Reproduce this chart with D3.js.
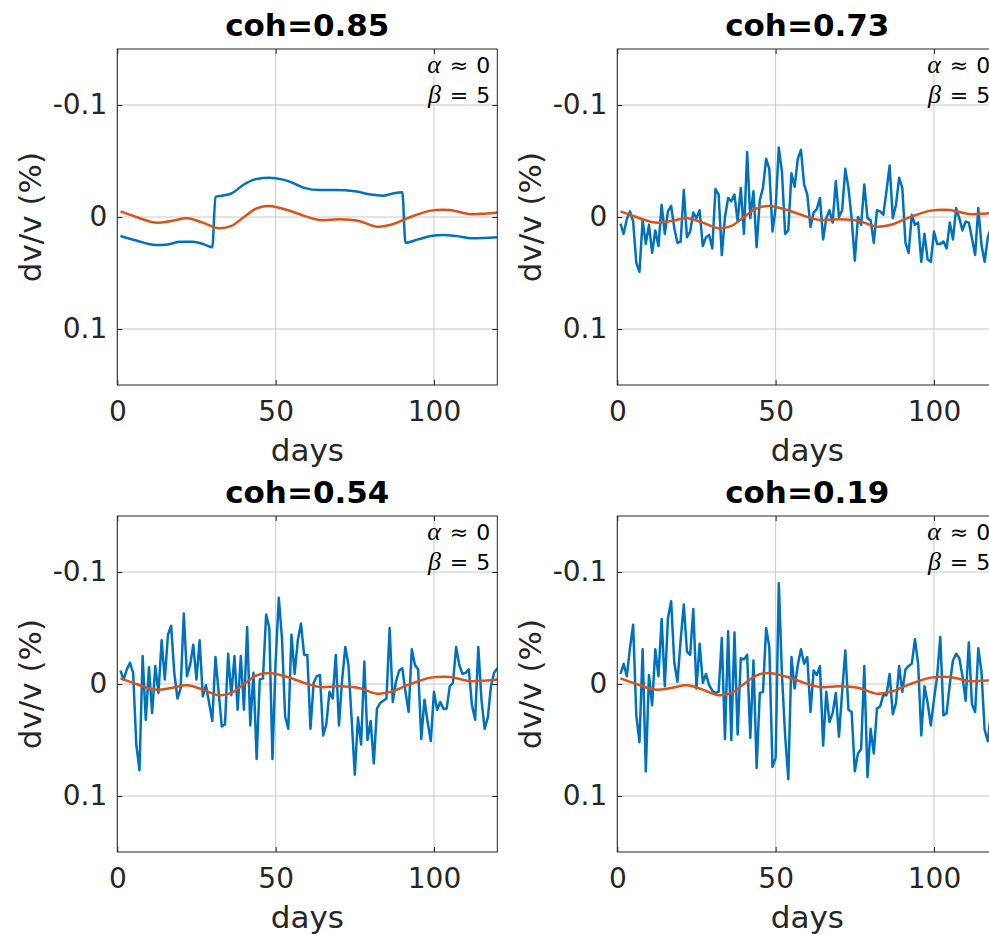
<!DOCTYPE html>
<html lang="en">
<head>
    <meta charset="UTF-8">
    <title>dv/v vs days</title>
    <script src="https://d3js.org/d3.v7.min.js"></script>
    <style>
        body{
            margin: 0;
            background: #fff;
            overflow: hidden;
        }
        text{
            font-family: "DejaVu Sans", sans-serif;
        }
        .tick text{
            font-size: 28px;
            fill: #262626;
        }
        .grid line{
            stroke: #c9c9c9;
            stroke-width: 1;
        }
        .frame{
            fill: none;
            stroke: #262626;
            stroke-width: 1;
        }
        .title{
            font-size: 31px;
            font-weight: bold;
            fill: #000;
            text-anchor: middle;
        }
        .label{
            font-size: 31px;
            fill: #262626;
            text-anchor: middle;
        }
        .note{
            font-size: 22px;
            fill: #000;
            text-anchor: end;
        }
        .greek{
            font-family: "Liberation Serif", "DejaVu Serif", serif;
            font-style: italic;
            font-size: 26px;
        }
    </style>
</head>
<body>
<svg id="main" width="989" height="934"></svg>
<script>
    // panel titles and axis ticks
    const titles = ["coh=0.85", "coh=0.73", "coh=0.54", "coh=0.19"]
    const xTicks = [0, 50, 100]
    const yTicks = [-0.1, 0, 0.1]
    const yTickLabels = ["-0.1", "0", "0.1"]

    // smooth reference curve (same in every panel)
    const refDays = [1, 6, 12, 17, 22, 27, 32, 36, 40, 44, 48, 54, 59, 64, 70, 76, 82, 87, 92, 99, 105, 111, 116, 120]
    const refVals = [-0.005, 0.000, 0.005, 0.0036, 0.0012, 0.005, 0.010, 0.008, 0.000, -0.0077, -0.0098, -0.006, -0.001,
        0.0027, 0.002, 0.0033, 0.0086, 0.0065, 0.0006, -0.0057, -0.0063, -0.0027, -0.003, -0.004]

    // coh=0.85 measured curve
    const days85 = [1, 6, 12, 16, 20, 24, 27, 30, 31, 33, 36, 40, 44, 48, 50, 54, 59, 64, 69, 75, 80, 84, 87, 90,
        91, 95, 99, 103, 107, 112, 120]
    const vals85 = [0.017, 0.021, 0.025, 0.0245, 0.022, 0.022, 0.024, 0.027, -0.018, -0.019, -0.021, -0.029,
        -0.034, -0.035, -0.0345, -0.032, -0.026, -0.024, -0.024, -0.023, -0.020, -0.019, -0.021, -0.022,
        0.023, 0.020, 0.017, 0.016, 0.017, 0.019, 0.018]

    // daily values, days 1..120
    const days = d3.range(1, 121)
    const vals73 = [0.006, 0.015, 0.002, -0.005, 0.004, 0.041, 0.049, 0.003, 0.024, 0.007,
        0.032, 0.012, 0.026, -0.011, 0.015, -0.005, -0.010, 0.010, 0.023, 0.022,
        -0.024, 0.018, 0.013, -0.004, 0.001, -0.006, 0.026, 0.018, 0.016, 0.028,
        -0.025, -0.020, 0.034, 0.000, -0.017, -0.014, -0.020, 0.004, -0.026, 0.015,
        -0.058, 0.001, -0.023, 0.027, -0.015, -0.026, -0.052, -0.043, 0.013, -0.008,
        -0.062, -0.040, 0.015, 0.012, -0.039, -0.027, -0.052, -0.060, -0.029, -0.020,
        0.009, -0.004, -0.007, -0.017, 0.020, 0.001, -0.006, 0.005, -0.032, 0.000,
        -0.006, -0.043, -0.026, 0.001, 0.039, 0.000, 0.007, -0.029, 0.001, 0.003,
        0.023, -0.006, -0.005, -0.002, -0.023, -0.046, 0.001, -0.011, -0.035, -0.026,
        0.023, 0.032, -0.002, 0.007, 0.005, 0.040, 0.015, 0.038, 0.040, 0.013,
        0.024, 0.024, 0.022, 0.028, 0.005, 0.020, -0.008, 0.001, 0.012, 0.004,
        0.005, 0.019, 0.034, -0.008, 0.025, 0.040, 0.018, 0.010, 0.012, 0.008]
    const vals54 = [-0.012, -0.004, -0.013, -0.019, -0.010, 0.054, 0.077, -0.025, 0.032, -0.015,
        0.026, -0.016, 0.008, -0.039, -0.004, -0.044, -0.052, -0.010, 0.013, 0.004,
        -0.063, -0.007, -0.017, -0.035, -0.004, -0.039, 0.011, 0.001, 0.017, 0.033,
        -0.024, 0.007, 0.038, 0.036, -0.027, 0.010, -0.025, 0.023, -0.025, 0.023,
        -0.051, 0.037, -0.010, 0.067, -0.004, -0.005, -0.062, -0.050, 0.067, -0.020,
        -0.077, -0.041, 0.029, 0.040, -0.044, -0.009, -0.039, -0.054, -0.026, -0.026,
        0.040, -0.001, -0.007, -0.008, 0.046, 0.036, 0.007, 0.013, -0.026, 0.037,
        -0.004, -0.033, -0.017, 0.031, 0.081, 0.030, 0.054, -0.020, 0.050, 0.033,
        0.071, 0.022, 0.017, 0.015, 0.013, -0.050, 0.016, -0.002, -0.012, -0.014,
        0.007, 0.025, -0.031, -0.017, -0.013, 0.049, 0.014, 0.034, 0.051, 0.007,
        0.023, 0.016, 0.022, 0.022, 0.002, -0.001, -0.033, -0.017, -0.009, -0.010,
        -0.013, 0.019, 0.032, -0.033, 0.014, 0.040, 0.030, 0.002, -0.010, -0.014]
    const vals19 = [-0.009, -0.018, -0.007, -0.032, -0.053, 0.028, 0.052, -0.031, 0.078, -0.008,
        0.019, -0.031, -0.007, -0.058, 0.002, -0.059, -0.074, -0.019, -0.002, -0.039,
        -0.071, -0.029, -0.026, -0.067, 0.004, -0.036, -0.001, -0.009, 0.001, 0.006,
        0.008, 0.007, -0.041, 0.049, -0.047, 0.050, -0.046, 0.045, -0.023, -0.022,
        -0.026, 0.048, -0.021, 0.075, 0.008, 0.007, -0.050, -0.033, 0.074, 0.066,
        -0.090, -0.008, 0.046, 0.085, -0.024, 0.004, -0.017, -0.031, -0.018, -0.024,
        0.025, -0.012, -0.008, -0.016, 0.055, 0.007, 0.034, 0.026, 0.008, 0.047,
        0.007, -0.030, 0.023, 0.025, 0.078, 0.062, 0.058, -0.016, 0.083, 0.040,
        0.062, 0.022, 0.020, 0.010, 0.010, -0.009, 0.027, 0.017, -0.016, 0.007,
        -0.013, -0.016, -0.018, -0.040, -0.018, 0.046, 0.002, 0.017, 0.037, 0.014,
        -0.007, -0.042, 0.028, 0.026, 0.000, -0.021, -0.027, -0.023, -0.007, 0.015,
        -0.037, 0.018, 0.025, -0.032, -0.011, 0.041, 0.051, 0.025, 0.010, 0.005]

    const panels = [
        {left: 117.3, top: 49, title: titles[0], d: days85, v: vals85, smooth: true},
        {left: 617.3, top: 49, title: titles[1], d: days, v: vals73},
        {left: 117.3, top: 516, title: titles[2], d: days, v: vals54},
        {left: 617.3, top: 516, title: titles[3], d: days, v: vals19}
    ]

    const W = 380, H = 336
    const x = d3.scaleLinear().domain([0, 120]).range([0, W])
    const y = d3.scaleLinear().domain([-0.15, 0.15]).range([0, H])

    const svg = d3.select("#main")
    const defs = svg.append("defs")

    panels.forEach(function(p, n) {
        const g = svg.append("g").attr("transform", "translate(" + p.left + "," + p.top + ")")

        defs.append("clipPath").attr("id", "clip" + n)
            .append("rect").attr("width", W).attr("height", H)

        // grid
        const grid = g.append("g").attr("class", "grid")
        grid.selectAll(".gx").data(xTicks).join("line").attr("class", "gx")
            .attr("x1", d => x(d)).attr("x2", d => x(d)).attr("y1", 0).attr("y2", H)
        grid.selectAll(".gy").data(yTicks).join("line").attr("class", "gy")
            .attr("x1", 0).attr("x2", W).attr("y1", d => y(d)).attr("y2", d => y(d))

        // axes, ticks pointing inward
        g.append("g").attr("transform", "translate(0," + H + ")")
            .call(d3.axisBottom(x).tickValues(xTicks).tickSizeInner(-5).tickSizeOuter(0).tickPadding(16))
        g.append("g")
            .call(d3.axisTop(x).tickValues(xTicks).tickSizeInner(-5).tickSizeOuter(0).tickFormat(""))
        g.append("g")
            .call(d3.axisLeft(y).tickValues(yTicks).tickSizeInner(-5).tickSizeOuter(0).tickPadding(10)
                .tickFormat((d, i) => yTickLabels[i]))
        g.append("g").attr("transform", "translate(" + W + ",0)")
            .call(d3.axisRight(y).tickValues(yTicks).tickSizeInner(-5).tickSizeOuter(0).tickFormat(""))
        g.selectAll(".domain").remove()
        g.selectAll(".tick line").attr("stroke", "#262626")

        // data lines
        const plot = g.append("g").attr("clip-path", "url(#clip" + n + ")")
        const blueLine = d3.line()
            .x((d, i) => x(p.d[i]))
            .y(d => y(d))
            .curve(p.smooth ? d3.curveMonotoneX : d3.curveLinear)
        plot.append("path").datum(p.v)
            .attr("d", blueLine)
            .attr("fill", "none")
            .attr("stroke", "#0072BD")
            .attr("stroke-width", 2.5)
            .attr("stroke-linejoin", "round")
        const refLine = d3.line()
            .x((d, i) => x(refDays[i]))
            .y(d => y(d))
            .curve(d3.curveCatmullRom)
        plot.append("path").datum(refVals)
            .attr("d", refLine)
            .attr("fill", "none")
            .attr("stroke", "#D95319")
            .attr("stroke-width", 2.5)

        g.append("rect").attr("class", "frame").attr("width", W).attr("height", H)

        // labels
        g.append("text").attr("class", "title").attr("x", W / 2).attr("y", -13).text(p.title)
        g.append("text").attr("class", "label").attr("x", W / 2).attr("y", H + 76).text("days")
        g.append("text").attr("class", "label")
            .attr("transform", "translate(-76," + (H / 2) + ") rotate(-90)")
            .text("dv/v (%)")

        // alpha / beta note
        const a = g.append("text").attr("class", "note").attr("x", W - 7).attr("y", 23.5)
        a.append("tspan").attr("class", "greek").text("α")
        a.append("tspan").attr("dx", 9).text("≈")
        a.append("tspan").attr("dx", 8).text("0")
        const b = g.append("text").attr("class", "note").attr("x", W - 7).attr("y", 54)
        b.append("tspan").attr("class", "greek").text("β")
        b.append("tspan").attr("dx", 9).text("=")
        b.append("tspan").attr("dx", 8).text("5")
    })
</script>
</body>
</html>
